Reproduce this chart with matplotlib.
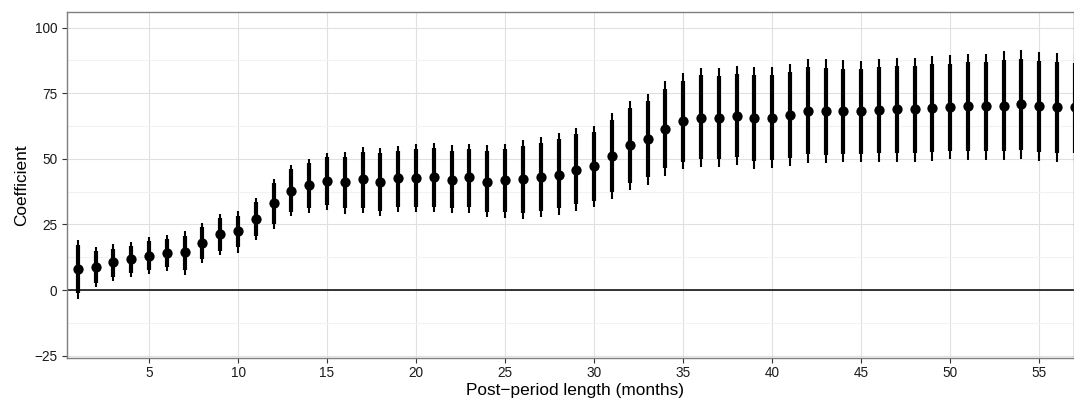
import numpy as np
import matplotlib
matplotlib.use("Agg")
import matplotlib.pyplot as plt
from matplotlib.ticker import MultipleLocator

plt.rcParams["font.family"] = ["Liberation Sans", "DejaVu Sans"]

# post-period length (months)
months = np.arange(1, 58)

estimate = [7.9, 8.9, 10.5, 11.7, 13.1, 14.0, 14.4, 17.8, 21.2, 22.5,
            27.2, 33.0, 37.9, 39.9, 41.4, 41.0, 42.2, 41.3, 42.6, 42.8,
            42.9, 42.1, 42.9, 41.3, 41.8, 42.2, 43.1, 44.0, 45.9, 47.1,
            51.2, 55.4, 57.7, 61.5, 64.3, 65.7, 65.7, 66.5, 65.7, 65.7,
            66.8, 68.1, 68.1, 68.1, 68.1, 68.5, 68.9, 68.9, 69.3, 69.6,
            70.0, 70.0, 70.3, 70.8, 70.0, 69.6, 69.6]

outer_hi = [18.9, 16.5, 17.4, 18.2, 20.2, 20.8, 22.6, 25.5, 29.1, 30.0,
            35.2, 42.4, 47.5, 49.8, 52.2, 52.5, 54.4, 54.0, 54.9, 55.5,
            55.9, 55.1, 55.8, 55.1, 55.8, 57.2, 58.2, 59.7, 61.8, 62.6,
            67.5, 72.2, 74.8, 79.5, 82.6, 84.8, 84.8, 85.4, 84.9, 84.9,
            86.2, 87.9, 87.9, 87.5, 87.4, 88.2, 88.4, 88.6, 89.2, 89.5,
            90.0, 90.1, 91.0, 91.5, 90.9, 90.3, 89.8]

inner_hi = [17.2, 14.9, 15.8, 16.8, 18.6, 19.3, 20.7, 23.9, 27.4, 28.3,
            33.7, 40.9, 46.0, 48.3, 50.6, 50.8, 52.6, 52.1, 53.1, 53.6,
            54.0, 53.1, 53.9, 53.1, 53.7, 54.9, 55.9, 57.4, 59.3, 60.1,
            64.8, 69.5, 72.0, 76.7, 79.5, 81.8, 81.7, 82.3, 82.0, 81.8,
            83.1, 84.9, 84.8, 84.4, 84.4, 85.0, 85.4, 85.4, 86.0, 86.2,
            86.8, 86.9, 87.7, 88.2, 87.4, 86.9, 86.6]

inner_lo = [-1.3, 2.8, 5.1, 6.6, 7.6, 8.9, 7.6, 11.9, 15.0, 16.3,
            20.6, 25.2, 29.9, 31.1, 32.4, 31.1, 31.4, 30.2, 31.5, 31.8,
            31.8, 31.4, 31.8, 29.9, 29.6, 29.2, 30.0, 31.1, 32.7, 34.1,
            37.4, 40.9, 43.2, 46.6, 48.8, 50.1, 50.1, 50.8, 49.3, 49.6,
            50.4, 51.7, 51.5, 51.8, 51.8, 52.1, 52.1, 52.1, 52.6, 53.0,
            53.0, 53.0, 53.0, 53.4, 52.6, 52.1, 52.1]

outer_lo = [-3.6, 1.3, 3.3, 5.1, 6.2, 7.1, 5.8, 10.2, 13.2, 14.2,
            18.9, 23.4, 28.2, 29.5, 30.6, 29.0, 29.5, 28.3, 29.6, 29.9,
            29.6, 29.4, 29.5, 27.7, 27.3, 26.9, 27.7, 28.6, 30.0, 31.5,
            34.7, 38.1, 40.2, 43.6, 46.0, 47.0, 46.9, 47.7, 46.1, 46.4,
            47.3, 48.5, 48.3, 48.7, 48.8, 48.9, 48.9, 48.8, 49.3, 49.8,
            49.6, 49.6, 49.6, 49.8, 49.3, 48.7, 48.6]

x_ticks = [5, 10, 15, 20, 25, 30, 35, 40, 45, 50, 55]
y_ticks = [-25, 0, 25, 50, 75, 100]

fig = plt.figure(figsize=(10.74, 4.01), dpi=100)
ax = fig.add_axes([67 / 1074, (401 - 357.7) / 401, 1007 / 1074, 346 / 401])

# grid like ggplot theme_bw
ax.set_axisbelow(True)
ax.yaxis.set_minor_locator(MultipleLocator(12.5))
ax.grid(which="major", color="#e0e0e0", lw=0.8)
ax.grid(which="minor", axis="y", color="#f2f2f2", lw=0.8)

ax.axhline(0, color="black", lw=1.1, zorder=2)

# intervals and point estimates
ax.vlines(months, outer_lo, outer_hi, colors="black", lw=1.5, capstyle="butt", zorder=3)
ax.vlines(months, inner_lo, inner_hi, colors="black", lw=3.0, capstyle="butt", zorder=3)
ax.plot(months, estimate, "o", color="black", ms=7.4, mec="none", zorder=4)

ax.set_xlim(0.395, 56.95)
ax.set_ylim(-25.8, 106.1)
ax.set_xticks(x_ticks)
ax.set_yticks(y_ticks)
ax.set_yticklabels([f"{v}".replace("-", "\u2212") for v in y_ticks])

for s in ax.spines.values():
    s.set_color("#7f7f7f")
    s.set_linewidth(1.0)

ax.tick_params(axis="both", which="major", length=3.6, width=0.8, color="#333333",
               labelsize=9.8, labelcolor="#1a1a1a")
ax.tick_params(axis="x", pad=2.3)
ax.tick_params(axis="y", pad=3.4)
ax.tick_params(which="minor", length=0)

ax.set_xlabel("Post\u2212period length (months)", fontsize=12.4)
ax.set_ylabel("Coefficient", fontsize=12.4)
ax.xaxis.set_label_coords((575.5 - 67) / 1007, -(390 - 357.7) / 346, transform=ax.transAxes)
ax.yaxis.set_label_coords(-(67 - 22) / 1007, 0.5, transform=ax.transAxes)
ax.xaxis.label.set_va("center")
ax.yaxis.label.set_va("center")

fig.savefig("out.png", dpi=100)
